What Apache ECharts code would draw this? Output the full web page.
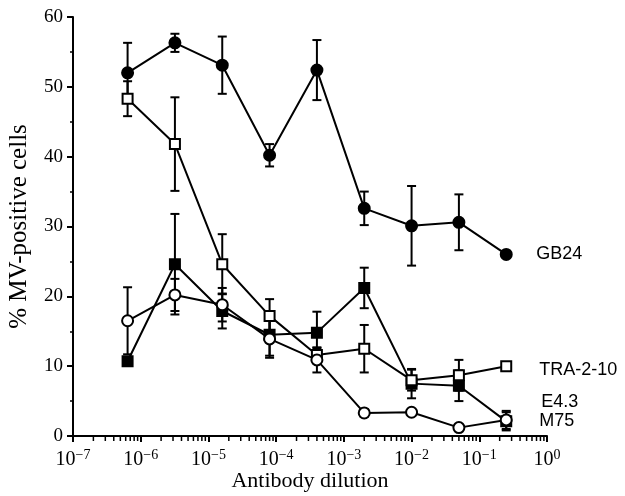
<!DOCTYPE html>
<html>
<head>
<meta charset="utf-8">
<script src="https://cdn.jsdelivr.net/npm/echarts@6/dist/echarts.min.js"></script>
<style>
  html, body { margin: 0; padding: 0; background: #fff; }
  #main { width: 625px; height: 496px; }
</style>
</head>
<body>
<div id="main"></div>
<script>
// 稀释度（5 倍梯度）
var dilutions = [6.4e-7, 3.2e-6, 1.6e-5, 8e-5, 4e-4, 2e-3, 1e-2, 5e-2, 0.25];

var names = ['GB24', 'TRA-2-10', 'E4.3', 'M75'];

var gb24 = [52.0, 56.3, 53.1, 40.2, 52.4, 32.6, 30.1, 30.6, 26.0];
var gb24Err = [4.3, 1.3, 4.1, 1.6, 4.3, 2.4, 5.7, 4.0, 0];

var tra = [48.3, 41.8, 24.6, 17.2, 11.6, 12.5, 8.0, 8.7, 10.0];
var traErr = [2.5, 6.7, 4.3, 2.4, 1.0, 3.4, 1.5, 2.2, 0];

var e43 = [10.7, 24.6, 17.9, 14.5, 14.8, 21.2, 7.5, 7.2, 2.1];
var e43Err = [0.5, 7.2, 2.5, 3.0, 3.0, 2.9, 2.1, 2.2, 1.3];

var m75 = [16.5, 20.2, 18.8, 13.9, 10.9, 3.3, 3.4, 1.2, 2.3];
var m75Err = [4.8, 2.3, 2.4, 2.7, 1.8, 0.5, 0, 0, 1.3];

var yTicks = [0, 10, 20, 30, 40, 50, 60];
var decades = [1e-7, 1e-6, 1e-5, 1e-4, 1e-3, 1e-2, 1e-1];
var minorSteps = [2, 3, 4, 5, 6, 7, 8, 9];

(function() {
	let myChart = echarts.init(document.getElementById('main'));

	function pairs(vals) {
		return dilutions.map(function(d, i) { return [d, vals[i]]; });
	}
	function errData(vals, errs) {
		return dilutions.map(function(d, i) { return [d, vals[i] - errs[i], vals[i] + errs[i]]; });
	}

	// 对数轴的次刻度
	let minorVals = [];
	decades.forEach(function(d) {
		minorSteps.forEach(function(m) { minorVals.push([d * m, 0]); });
	});

	// 误差线
	function errSeries(vals, errs) {
		return {
			type: 'custom',
			z: 1,
			silent: true,
			renderItem: function(params, api) {
				let lo = api.value(1), hi = api.value(2);
				if (hi - lo <= 0) return null;
				let p1 = api.coord([api.value(0), lo]);
				let p2 = api.coord([api.value(0), hi]);
				let w = 4.5;
				let st = { stroke: '#000', lineWidth: 2 };
				return {
					type: 'group',
					children: [
						{ type: 'line', shape: { x1: p1[0], y1: p1[1], x2: p2[0], y2: p2[1] }, style: st },
						{ type: 'line', shape: { x1: p1[0] - w, y1: p1[1], x2: p1[0] + w, y2: p1[1] }, style: st },
						{ type: 'line', shape: { x1: p2[0] - w, y1: p2[1], x2: p2[0] + w, y2: p2[1] }, style: st }
					]
				};
			},
			encode: { x: 0, y: [1, 2] },
			data: errData(vals, errs)
		};
	}

	function lineSeries(name, vals, symbol, filled, labelOffset, z) {
		return {
			name: name,
			type: 'line',
			z: z,
			data: pairs(vals),
			symbol: symbol,
			symbolSize: symbol === 'rect' ? 10 : 11,
			showAllSymbol: true,
			lineStyle: { color: '#000', width: 2 },
			itemStyle: {
				color: filled ? '#000' : '#fff',
				borderColor: '#000',
				borderWidth: 2
			},
			emphasis: { disabled: true },
			endLabel: {
				show: true,
				formatter: name,
				color: '#000',
				fontFamily: 'Liberation Sans',
				fontSize: 18,
				offset: labelOffset
			}
		};
	}

	let option = {
		animation: false,
		grid: {
			left: 73,
			right: 78,
			top: 17,
			bottom: 60,
			outerBoundsMode: 'none'
		},
		xAxis: {
			type: 'log',
			logBase: 10,
			min: 1e-7,
			max: 1,
			name: 'Antibody dilution',
			nameLocation: 'middle',
			nameGap: 34,
			nameMoveOverlap: false,
			nameTextStyle: { color: '#000', fontFamily: 'Liberation Serif', fontSize: 22 },
			splitLine: { show: false },
			axisLine: { lineStyle: { color: '#000', width: 2 } },
			axisTick: { length: 6, lineStyle: { color: '#000', width: 2 } },
			axisLabel: {
				margin: 12,
				formatter: function(v) {
					let e = Math.round(Math.log10(v));
					return '{b|10}{s|' + (e < 0 ? '\u2212' + (-e) : e) + '}';
				},
				rich: {
					b: { fontFamily: 'Liberation Serif', fontSize: 20, color: '#000', lineHeight: 22, verticalAlign: 'bottom' },
					s: { fontFamily: 'Liberation Serif', fontSize: 14, color: '#000', lineHeight: 22, verticalAlign: 'top', padding: [0, 0, 7, 0] }
				}
			}
		},
		yAxis: {
			type: 'value',
			min: yTicks[0],
			max: yTicks[yTicks.length - 1],
			interval: 10,
			name: '% MV-positive cells',
			nameLocation: 'middle',
			nameGap: 41,
			nameMoveOverlap: false,
			nameTextStyle: { color: '#000', fontFamily: 'Liberation Serif', fontSize: 25 },
			splitLine: { show: false },
			axisLine: { show: true, lineStyle: { color: '#000', width: 2 } },
			axisTick: { length: 6, lineStyle: { color: '#000', width: 2 } },
			minorTick: { show: true, splitNumber: 2, length: 3, lineStyle: { color: '#000', width: 1.5 } },
			axisLabel: { color: '#000', fontFamily: 'Liberation Serif', fontSize: 19, margin: 10 }
		},
		series: [
			{
				type: 'custom',
				silent: true,
				z: 5,
				clip: false,
				renderItem: function(params, api) {
					let p = api.coord([api.value(0), api.value(1)]);
					return {
						type: 'line',
						shape: { x1: p[0], y1: p[1], x2: p[0], y2: p[1] + 5 },
						style: { stroke: '#000', lineWidth: 1.5 }
					};
				},
				encode: { x: 0, y: 1 },
				data: minorVals
			},
			errSeries(gb24, gb24Err),
			errSeries(tra, traErr),
			errSeries(e43, e43Err),
			errSeries(m75, m75Err),
			lineSeries(names[0], gb24, 'circle', true, [22, 0], 3),
			lineSeries(names[1], tra, 'rect', false, [25, 4], 4),
			lineSeries(names[2], e43, 'rect', true, [27, -19], 2),
			lineSeries(names[3], m75, 'circle', false, [25, 1], 5)
		]
	};

	myChart.setOption(option);
})();
</script>
</body>
</html>
